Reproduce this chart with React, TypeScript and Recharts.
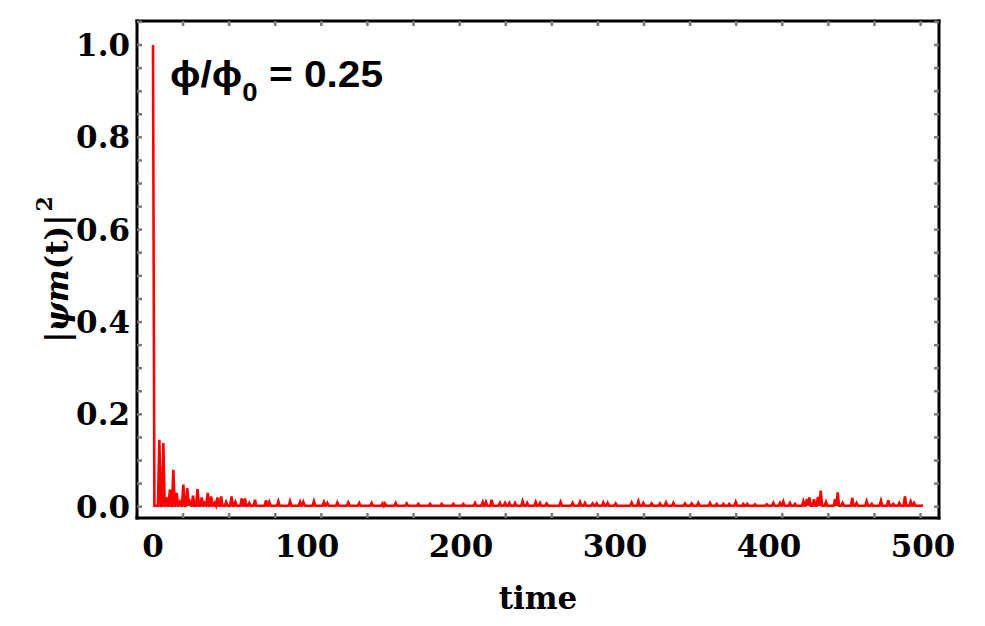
import React from 'react';
import { LineChart, Line, XAxis, YAxis } from 'recharts';

// peaks of |psi_m(t)|^2 (time, value)
const peakTimes = [
  0, 4.1, 6.7, 9, 11, 13.2, 15.4, 17.5, 19.7, 22.3,
  24, 26, 28.9, 31.6, 33.5, 35.5, 37.7, 40, 41.8, 44.2,
  47.5, 51, 53.5, 57.6, 59.7, 62.5,
  66.2, 73.4, 75.5, 81.4, 89, 95.5, 97.6, 104.5, 111, 113.2,
  119.7, 126.8, 133.9, 142, 149.1, 150.6, 157.6, 164.7, 172.3, 179.9,
  187.5, 195, 201.5, 209.1,
  214.1, 216.2, 219.9, 225.3, 228.6, 231.4, 235.1, 240, 243, 248.5,
  251.3, 255.6, 264.7, 272.5, 277.3, 280.5, 285.5, 288.1, 292.4, 295.2,
  300.4, 310.8, 315.2, 318.4, 323.8, 329.2, 333.1, 337.9, 345.5, 349.8,
  354.1,
  361.7, 366, 370.4, 374.2, 378.4, 383.3, 385.9, 390.9, 398.5, 402.8,
  407.1, 409.3, 413.6, 416.9, 422.3, 424.5, 426.2, 429.2, 431.8, 433.6,
  437, 442.9, 444.6, 447.8, 454.1, 456.9, 463.4, 466.7, 472.7, 477.5,
  480.7, 484.6, 488.3, 492, 494.2, 500,
];
const peakValues = [
  1.0, 0.145, 0.138, 0.02, 0.037, 0.08, 0.03, 0.01, 0.048, 0.04,
  0.01, 0.024, 0.038, 0.02, 0.008, 0.03, 0.022, 0.008, 0.02, 0.022,
  0.01, 0.022, 0.01, 0.018, 0.018, 0.008,
  0.015, 0.014, 0.01, 0.012, 0.012, 0.01, 0.01, 0.012, 0.01, 0.008,
  0.009, 0.009, 0.008, 0.008, 0.007, 0.007, 0.008, 0.007, 0.006, 0.006,
  0.006, 0.006, 0.006, 0.008,
  0.01, 0.01, 0.015, 0.008, 0.008, 0.008, 0.008, 0.012, 0.008, 0.01,
  0.008, 0.007, 0.01, 0.008, 0.01, 0.008, 0.007, 0.007, 0.009, 0.008,
  0.007, 0.009, 0.012, 0.008, 0.007, 0.007, 0.009, 0.008, 0.007, 0.007,
  0.008,
  0.008, 0.006, 0.006, 0.006, 0.01, 0.006, 0.006, 0.005, 0.005, 0.008,
  0.008, 0.011, 0.008, 0.006, 0.012, 0.016, 0.02, 0.016, 0.021, 0.035,
  0.01, 0.016, 0.031, 0.008, 0.019, 0.008, 0.012, 0.006, 0.013, 0.014,
  0.006, 0.008, 0.022, 0.011, 0.008, 0.003,
];
// level the curve falls back to between peaks
const floorLevel = 0.002;

const xTicks = [0, 100, 200, 300, 400, 500];
const xMinorTicks = [
  0, 20, 40, 60, 80, 100, 120, 140, 160, 180, 200, 220, 240,
  260, 280, 300, 320, 340, 360, 380, 400, 420, 440, 460, 480, 500,
];
const yTicks = [0, 0.2, 0.4, 0.6, 0.8, 1.0];
const yMinorTicks = [
  0, 0.05, 0.1, 0.15, 0.2, 0.25, 0.3, 0.35, 0.4, 0.45, 0.5,
  0.55, 0.6, 0.65, 0.7, 0.75, 0.8, 0.85, 0.9, 0.95, 1.0, 1.05,
];
const xDomain = [-10.4, 510.4];
const yDomain = [-0.0245, 1.052];

// spike table: floor -> peak -> floor
const data: { t: number; v: number }[] = [];
peakTimes.forEach((t, i) => {
  const prev = peakTimes[i - 1];
  const next = peakTimes[i + 1];
  if (prev !== undefined) data.push({ t: t - Math.min(0.9, (t - prev) / 2), v: floorLevel });
  data.push({ t, v: peakValues[i] });
  if (next !== undefined) data.push({ t: t + Math.min(0.9, (next - t) / 2), v: floorLevel });
});

const serif = { fill: '#000', fontFamily: 'DejaVu Serif', fontWeight: 'bold', fontSize: 31 };
const frameLine = { stroke: '#000', strokeWidth: 3, strokeLinecap: 'square' as const };
const tickMark = { stroke: '#7a7a7a', strokeWidth: 2.5 };
const noLabel = () => <g />;

const YLabel = (props: any) => {
  const vb = props.viewBox;
  const cx = vb.x + 58;
  const cy = vb.y + vb.height / 2;
  return (
    <text
      transform={`translate(${cx},${cy}) rotate(-90)`}
      textAnchor="middle"
      fill="#000"
      fontFamily="DejaVu Serif"
      fontWeight="bold"
      fontSize={31}
    >
      <tspan>|</tspan>
      <tspan fontStyle="italic">ψ</tspan>
      <tspan fontStyle="italic">m</tspan>
      <tspan>(t)|</tspan>
      <tspan fontSize={22} dx={3} dy={-16}>2</tspan>
    </text>
  );
};

export default function App() {
  return (
    <div style={{ position: 'absolute', left: 0, top: 0 }}>
      <LineChart
        width={985}
        height={626}
        data={data}
        margin={{ top: 21, right: 45, bottom: 17, left: 10 }}
      >
        <XAxis
          xAxisId="main"
          dataKey="t"
          type="number"
          domain={xDomain}
          ticks={xTicks}
          allowDataOverflow
          height={91}
          tickLine={false}
          axisLine={false}
          tickSize={0}
          tickMargin={17}
          tick={serif}
          label={{ value: 'time', position: 'insideBottom', offset: 0, ...serif }}
        />
        <XAxis
          xAxisId="bottomTicks"
          type="number"
          domain={xDomain}
          ticks={xMinorTicks}
          allowDataOverflow
          mirror
          height={1}
          tick={noLabel}
          tickLine={tickMark}
          tickSize={5}
          axisLine={frameLine}
        />
        <XAxis
          xAxisId="topTicks"
          orientation="top"
          type="number"
          domain={xDomain}
          ticks={xMinorTicks}
          allowDataOverflow
          mirror
          height={1}
          tick={noLabel}
          tickLine={tickMark}
          tickSize={5}
          axisLine={frameLine}
        />
        <YAxis
          yAxisId="main"
          dataKey="v"
          type="number"
          domain={yDomain}
          ticks={yTicks}
          allowDataOverflow
          width={127}
          tickLine={false}
          axisLine={false}
          tickSize={0}
          tickMargin={7}
          tick={serif}
          tickFormatter={(v: number) => v.toFixed(1)}
          label={{ content: YLabel }}
        />
        <YAxis
          yAxisId="leftTicks"
          type="number"
          domain={yDomain}
          ticks={yMinorTicks}
          allowDataOverflow
          mirror
          width={1}
          tick={noLabel}
          tickLine={tickMark}
          tickSize={5}
          axisLine={frameLine}
        />
        <YAxis
          yAxisId="rightTicks"
          orientation="right"
          type="number"
          domain={yDomain}
          ticks={yMinorTicks}
          allowDataOverflow
          width={1}
          tick={noLabel}
          tickLine={tickMark}
          tickSize={-5}
          tickMargin={0}
          axisLine={frameLine}
        />
        <Line
          xAxisId="main"
          yAxisId="main"
          type="linear"
          dataKey="v"
          stroke="#ff0000"
          strokeWidth={2.6}
          dot={false}
          isAnimationActive={false}
        />
        <text
          transform="translate(170,87) scale(1.1,1)"
          fill="#000"
          fontFamily="Liberation Sans"
          fontWeight="bold"
          fontSize={37}
        >
          ϕ/ϕ
          <tspan fontSize={25} dy={14}>0</tspan>
          <tspan dy={-14}> = 0.25</tspan>
        </text>
      </LineChart>
    </div>
  );
}
